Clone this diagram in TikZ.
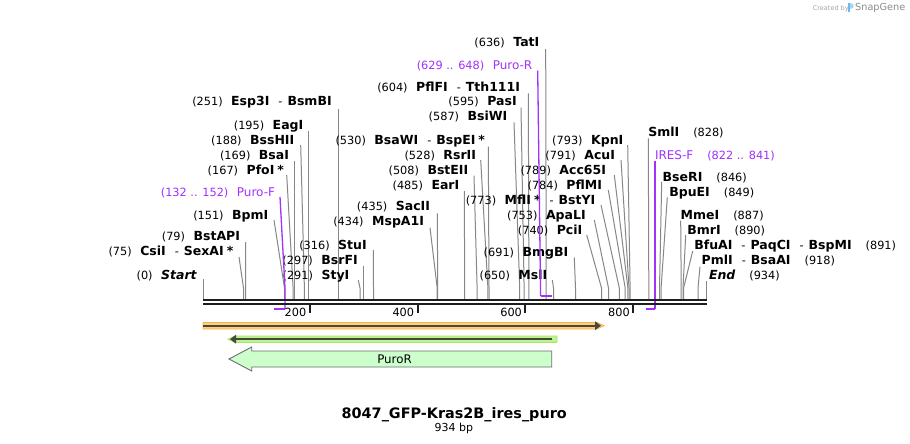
\documentclass[tikz,border=0pt]{standalone}
\usepackage{fontspec}
\setmainfont{DejaVu Sans}
\usetikzlibrary{arrows.meta}
\definecolor{enz}{RGB}{135,135,135}
\definecolor{prim}{RGB}{160,50,250}
\definecolor{bb}{RGB}{30,30,30}
\definecolor{orfill}{RGB}{255,207,125}
\definecolor{ordraw}{RGB}{245,178,80}
\definecolor{grfill}{RGB}{190,243,145}
\definecolor{grdraw}{RGB}{165,230,110}
\definecolor{featdark}{RGB}{72,72,60}
\definecolor{purofill}{RGB}{204,255,204}
\definecolor{purodraw}{RGB}{110,110,110}
\definecolor{logoblue}{RGB}{110,185,240}
\newcommand{\EzN}[1]{{\fontsize{12.5}{14}\selectfont\bfseries #1}}
\newcommand{\EzG}{\hspace{8.5pt}}
\newcommand{\EzD}{\hspace{9pt}-\hspace{5pt}}
\newcommand{\EzR}{\hspace{14pt}}
\newcommand{\EzS}{\hspace{3pt}}
% id, text, textEndX, textY, topX, topY, siteX
\newcommand{\enzL}[7]{%
  \node[lbl,anchor=base east] (l#1) at (#3,#4+4.4) {#2};
  \coordinate (t#1) at (#5,#6);
  \coordinate (k#1) at (#7,288);
  \coordinate (s#1) at (#7,299);
  \draw[enzline] (t#1) -- (k#1) -- (s#1);
}
\newcommand{\enzR}[7]{%
  \node[lbl,anchor=base west] (l#1) at (#3,#4+4.4) {#2};
  \coordinate (t#1) at (#5,#6);
  \coordinate (k#1) at (#7,288);
  \coordinate (s#1) at (#7,299);
  \draw[enzline] (t#1) -- (k#1) -- (s#1);
}
\begin{document}
\begin{tikzpicture}[x=1pt,y=-1pt,
  lbl/.style={inner sep=0pt,outer sep=0pt,font=\fontsize{11.3}{13}\selectfont,text=black},
  plbl/.style={lbl,text=prim},
  enzline/.style={draw=enz,line width=1pt},
  primline/.style={draw=prim,line width=1.3pt},
  primbar/.style={draw=prim,line width=2pt},
  backbone/.style={draw=bb,line width=2pt},
  tick/.style={draw=bb,line width=2pt},
  featline/.style={draw=featdark,fill=featdark,line width=1.8pt}]
\fill[white] (0,0) rectangle (910,444);
\useasboundingbox (0,0) rectangle (910,444);

% enzymes, left-anchored labels
\enzL{start}{(0)\EzG\EzN{\itshape Start}}{196.7}{274.7}{203.3}{279}{203.3}
\enzL{csi}{(75)\EzG\EzN{CsiI}\EzD\EzN{SexAI\EzS*}}{233.3}{251.5}{239}{257}{243.5}
\enzL{bstapi}{(79)\EzG\EzN{BstAPI}}{240}{236.5}{245.5}{242}{245.6}
\enzL{bpmi}{(151)\EzG\EzN{BpmI}}{268.3}{214.7}{274}{220}{284.5}
\enzL{pfoi}{(167)\EzG\EzN{PfoI\EzS*}}{284}{169.7}{286.7}{175}{293.1}
\enzL{bsai}{(169)\EzG\EzN{BsaI}}{289}{154.8}{294.3}{161}{294.3}
\enzL{bsshii}{(188)\EzG\EzN{BssHII}}{294.3}{139.7}{300.7}{145}{304.4}
\enzL{eagi}{(195)\EzG\EzN{EagI}}{303.3}{124.7}{308.3}{131}{308.3}
\enzL{esp}{(251)\EzG\EzN{Esp3I}\EzD\EzN{BsmBI}}{331.7}{101.3}{338.3}{109}{338.3}
\enzL{styi}{(291)\EzG\EzN{StyI}}{349.3}{274.7}{358.3}{280}{360}
\enzL{bsrfi}{(297)\EzG\EzN{BsrFI}}{357.7}{260}{363.3}{265.7}{363.3}
\enzL{stui}{(316)\EzG\EzN{StuI}}{366.7}{244.7}{373.3}{250}{373.5}
\enzL{mspa}{(434)\EzG\EzN{MspA1I}}{424}{221.5}{430}{227.7}{437.2}
\enzL{sacii}{(435)\EzG\EzN{SacII}}{430}{206.3}{437.3}{213.3}{437.7}
\enzL{eari}{(485)\EzG\EzN{EarI}}{459.3}{185}{464.3}{191}{464.7}
\enzL{bsteii}{(508)\EzG\EzN{BstEII}}{468.3}{169.7}{474}{175.7}{477.1}
\enzL{rsrii}{(528)\EzG\EzN{RsrII}}{476}{154.8}{480.7}{160}{487.9}
\enzL{bsawi}{(530)\EzG\EzN{BsaWI}\EzD\EzN{BspEI\EzS*}}{485}{139.7}{488.3}{146.7}{489}
\enzL{bsiwi}{(587)\EzG\EzN{BsiWI}}{507.3}{116.3}{514}{122.3}{519.7}
\enzL{pasi}{(595)\EzG\EzN{PasI}}{516.7}{101.3}{521}{107.7}{524.1}
\enzL{pflfi}{(604)\EzG\EzN{PflFI}\EzD\EzN{Tth111I}}{520}{87}{528.3}{93.3}{528.9}
\enzL{tati}{(636)\EzG\EzN{TatI}}{539.3}{42}{545.7}{49}{546.2}
\enzL{msli}{(650)\EzG\EzN{MslI}}{547.3}{274.7}{552.3}{280}{553.5}
\enzL{bmgbi}{(691)\EzG\EzN{BmgBI}}{568.3}{252}{574.3}{257.7}{575.5}
\enzL{pcii}{(740)\EzG\EzN{PciI}}{582.3}{229.7}{586.7}{235}{601.5}
\enzL{apali}{(753)\EzG\EzN{ApaLI}}{585.7}{214.7}{594.3}{220}{608.5}
\enzL{mfli}{(773)\EzG\EzN{MflI\EzS*}\EzD\EzN{BstYI}}{595.3}{199.7}{601}{205}{619.3}
\enzL{pflmi}{(784)\EzG\EzN{PflMI}}{602}{185}{608.3}{190}{625.2}
\enzL{acc}{(789)\EzG\EzN{Acc65I}}{606}{169.7}{614.3}{175}{627.9}
\enzL{acui}{(791)\EzG\EzN{AcuI}}{615}{154.8}{621}{160}{629}
\enzL{kpni}{(793)\EzG\EzN{KpnI}}{623.3}{139.7}{627.7}{145}{630.1}

% enzymes, right-anchored labels
\enzR{smli}{\EzN{SmlI}\EzR(828)}{648.3}{132}{648.3}{138.3}{648.8}
\enzR{bseri}{\EzN{BseRI}\EzR(846)}{662.7}{177}{661.7}{182}{659.5}
\enzR{bpuei}{\EzN{BpuEI}\EzR(849)}{669.3}{192}{667.3}{197.3}{661.1}
\enzR{mmei}{\EzN{MmeI}\EzR(887)}{680.7}{214.7}{680.7}{220.7}{681.2}
\enzR{bmri}{\EzN{BmrI}\EzR(890)}{687.3}{229.7}{685.7}{235}{683}
\enzR{bfuai}{\EzN{BfuAI}\EzD\EzN{PaqCI}\EzD\EzN{BspMI}\EzR(891)}{694.3}{244.7}{692.7}{251}{683.6}
\enzR{pmli}{\EzN{PmlI}\EzD\EzN{BsaAI}\EzR(918)}{701.7}{259.7}{700}{266.7}{698}
\enzR{endd}{\EzN{\itshape End}\EzR(934)}{709}{274.7}{706.7}{281}{706.7}

% primers
\node[plbl,anchor=base east] (pF) at (275,196.4) {(132 .. 152)\EzG{\fontsize{12}{14}\selectfont Puro-F}};
\coordinate (pFt) at (280,197);
\coordinate (pFk) at (285,288);
\coordinate (pFb) at (285,309);
\coordinate (pFe) at (274,309);
\draw[primline] (pFt) -- (pFk) -- (pFb);
\draw[primbar] (pFb) -- (pFe);

\node[plbl,anchor=base east] (pR) at (532.3,69.1) {(629 .. 648)\EzG{\fontsize{12}{14}\selectfont Puro-R}};
\coordinate (pRt) at (537.7,70.7);
\coordinate (pRk) at (540.5,288);
\coordinate (pRb) at (540.5,296);
\coordinate (pRe) at (551.5,296);
\draw[primline] (pRt) -- (pRk) -- (pRb);
\draw[primbar] (pRb) -- (pRe);

\node[plbl,anchor=base west] (pI) at (655,159.1) {{\fontsize{12}{14}\selectfont IRES-F}\EzR(822 .. 841)};
\coordinate (pIt) at (655,160.7);
\coordinate (pIb) at (655,308.5);
\coordinate (pIe) at (645.5,308.5);
\draw[primline] (pIt) -- (pIb);
\draw[primbar] (pIb) -- (pIe);

% backbone
\coordinate (bbL1) at (203,300);
\coordinate (bbR1) at (707,300);
\coordinate (bbL2) at (203,304);
\coordinate (bbR2) at (707,304);
\draw[backbone] (bbL1) -- (bbR1);
\draw[backbone] (bbL2) -- (bbR2);

% ticks
\foreach \tx/\tl in {309.8/200,417.6/400,525.4/600,633.2/800}{
  \draw[tick] (\tx,305) -- (\tx,313);
  \node[lbl,anchor=base east] (tk\tl) at (\tx-3.5,316) {\tl};
}

% orange feature
\fill[orfill,draw=ordraw,line width=0.8pt] (203,322.5) -- (597,322.5) -- (604,325.7) -- (597,329) -- (203,329) -- cycle;
\coordinate (oa) at (203,325.7);
\coordinate (ob) at (601,325.7);
\draw[featline,-{Triangle[length=6pt,width=8.5pt]}] (oa) -- (ob);

% green feature
\fill[grfill,draw=grdraw,line width=0.8pt] (557,336) -- (235,336) -- (228,339.2) -- (235,342.5) -- (557,342.5) -- cycle;
\coordinate (ga) at (552,339.2);
\coordinate (gb) at (230,339.2);
\draw[featline,-{Triangle[length=6pt,width=8.5pt]}] (ga) -- (gb);

% PuroR arrow
\filldraw[fill=purofill,draw=purodraw,line width=0.9pt]
  (551.7,351) -- (251.7,351) -- (251.7,347) -- (229,359) -- (251.7,371) -- (251.7,367) -- (551.7,367) -- cycle;
\node[lbl,anchor=base,font=\fontsize{11.8}{13}\selectfont] (puroR) at (394.5,363.3) {PuroR};

% title
\node[anchor=base,inner sep=0pt,font=\fontsize{14.4}{16}\selectfont\bfseries] (title) at (454.2,418) {8047\_GFP-Kras2B\_ires\_puro};
\node[anchor=base,inner sep=0pt,font=\fontsize{11}{13}\selectfont] (bp) at (453.8,431.8) {934 bp};

% watermark
\node[anchor=base west,inner sep=0pt,font=\fontsize{6.5}{8}\selectfont,text=black!35] (cb) at (812.7,10.2) {Created by};
\fill[logoblue] (848.3,3.2) rectangle (850.3,12.5);
\fill[logoblue!60] (850.3,3.2) .. controls (854.5,3.2) and (854.5,9) .. (850.3,9) -- cycle;
\node[anchor=base west,inner sep=0pt,font=\fontsize{9.7}{11}\selectfont,text=black!45] (sg) at (855,10.7) {SnapGene};
\end{tikzpicture}
\end{document}
